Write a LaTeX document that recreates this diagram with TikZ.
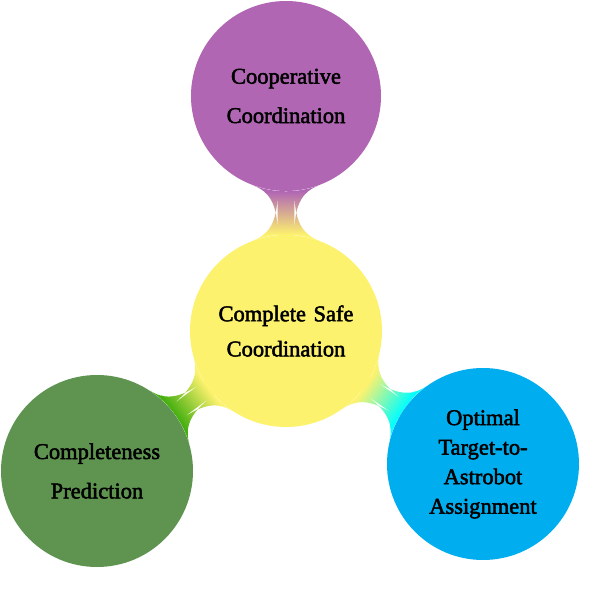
\documentclass[tikz,border=0pt]{standalone}
\usepackage{fontspec}
\setmainfont{Liberation Serif}
\newfontfamily\conceptfont{Liberation Serif}[RawFeature={embolden=2.2}]
\usetikzlibrary{mindmap,backgrounds}
\definecolor{ideayellow}{HTML}{FDF26E}
\definecolor{ideapurple}{HTML}{B166B4}
\definecolor{ideagreen}{HTML}{5E9450}
\definecolor{linkgreen}{HTML}{46B010}
\definecolor{ideacyan}{HTML}{00AEEF}
\definecolor{linkcyan}{HTML}{00FFFF}
\tikzset{
  idea/.style={circle,minimum size=4.8cm,inner sep=0pt,align=center,
    text width=3.6cm,font=\conceptfont\fontsize{16}{#1}\selectfont},
  idea/.default=25pt,
  link/.style={line width=0.7cm}
}
\begin{document}
\begin{tikzpicture}
  \useasboundingbox (-7.15,8.275) rectangle (7.7,-6.825);
  \node[idea,fill=ideayellow] (safe) at (0,0) {Complete Safe\\Coordination};
  \node[idea=28pt,fill=ideapurple,minimum size=4.75cm] (coop) at (0,5.875) {Cooperative\\Coordination};
  \node[idea=28pt,fill=ideagreen] (pred) at (-4.725,-3.5) {Completeness\\Prediction};
  \node[idea=21pt,fill=ideacyan] (assign) at (4.925,-3.325) {Optimal\\Target-to-\\Astrobot\\Assignment};
  \begin{scope}[on background layer]
    \path[link] (safe) to[circle connection bar switch color=from (ideayellow) to (ideapurple)] (coop);
    \path[link] (safe) to[circle connection bar switch color=from (ideayellow) to (linkgreen)] (pred);
    \path[link] (safe) to[circle connection bar switch color=from (ideayellow) to (linkcyan)] (assign);
  \end{scope}
\end{tikzpicture}
\end{document}
